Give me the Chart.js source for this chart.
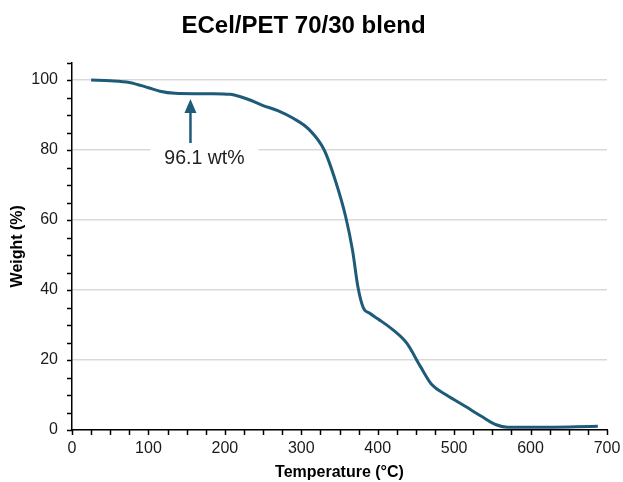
<!DOCTYPE html>
<html>
<head>
<meta charset="utf-8">
<script src="https://cdn.jsdelivr.net/npm/chart.js@4/dist/chart.umd.min.js"></script>
<style>
  html, body { margin: 0; padding: 0; background: #fff; }
  #wrap { width: 623px; height: 482px; }
</style>
</head>
<body>
<div id="wrap"><canvas id="tga"></canvas></div>
<script>
// TGA curve
const temperature = [25, 50, 75, 100, 115, 135, 160, 185, 207, 230, 250, 270, 290, 310, 330, 345, 358, 367, 374, 381, 390, 400, 420, 438, 456, 471, 490, 515, 535, 555, 570, 600, 630, 660, 688];
const weight = [100, 99.8, 99.3, 97.8, 96.8, 96.2, 96.1, 96.1, 95.9, 94.5, 92.7, 91.2, 89, 85.9, 80, 71, 61, 51.4, 41, 35, 33.3, 31.8, 28.6, 24.8, 18.1, 12.9, 10, 6.7, 4, 1.5, 0.8, 0.8, 0.8, 0.9, 1.1];

const xTicks = [0, 100, 200, 300, 400, 500, 600, 700];
const yTicks = [0, 20, 40, 60, 80, 100];

// annotation: arrow pointing at the plateau
const noteT = 155;
const noteLabel = "96.1 wt%";

const lineColor = "#1d5b79";
const font = "'Liberation Sans', Arial, sans-serif";

const points = temperature.map((t, i) => ({ x: t, y: weight[i] }));

// minor ticks + arrow note
const extras = {
  id: "extras",
  afterDraw(chart) {
    const c = chart.ctx;
    const xs = chart.scales.x, ys = chart.scales.y;
    const area = chart.chartArea;
    c.save();
    c.strokeStyle = "#000";
    c.lineWidth = 1.5;
    // y ticks every 5
    for (let v = 0; v <= 105; v += 5) {
      const y = Math.round(ys.getPixelForValue(v)) + 0.5;
      c.beginPath();
      c.moveTo(area.left - 5, y);
      c.lineTo(area.left, y);
      c.stroke();
    }
    // x ticks every 25
    for (let v = 0; v <= 700; v += 25) {
      const x = Math.round(xs.getPixelForValue(v)) + 0.5;
      c.beginPath();
      c.moveTo(x, area.bottom);
      c.lineTo(x, area.bottom + 5);
      c.stroke();
    }

    // note text with white box
    const ax = xs.getPixelForValue(noteT);
    const tipY = ys.getPixelForValue(94.6);
    const endY = ys.getPixelForValue(82);
    const textY = ys.getPixelForValue(77.4);
    c.font = "19.5px " + font;
    const w = c.measureText(noteLabel).width;
    const tx = ax + 14;
    c.fillStyle = "#fff";
    c.fillRect(tx - w / 2 - 14, textY - 11, w + 28, 22);
    c.fillStyle = "#222";
    c.textAlign = "center";
    c.textBaseline = "middle";
    c.fillText(noteLabel, tx, textY);

    // arrow
    c.strokeStyle = lineColor;
    c.fillStyle = lineColor;
    c.lineWidth = 2.5;
    c.beginPath();
    c.moveTo(ax, endY);
    c.lineTo(ax, tipY + 10);
    c.stroke();
    c.beginPath();
    c.moveTo(ax, tipY);
    c.lineTo(ax - 6, tipY + 14);
    c.lineTo(ax + 6, tipY + 14);
    c.closePath();
    c.fill();
    c.restore();
  }
};

new Chart(document.getElementById("tga"), {
  type: "line",
  data: {
    datasets: [{
      data: points,
      borderColor: lineColor,
      borderWidth: 3,
      pointRadius: 0,
      fill: false,
      cubicInterpolationMode: "monotone",
    }]
  },
  options: {
    responsive: true,
    maintainAspectRatio: false,
    animation: false,
    layout: { padding: { left: 0, right: 16, top: 0, bottom: 0 } },
    plugins: {
      legend: { display: false },
      tooltip: { enabled: false },
      title: {
        display: true,
        text: "ECel/PET 70/30 blend",
        color: "#000",
        font: { family: font, size: 24, weight: "bold" },
        padding: { top: 12.3, bottom: 21.4 },
      },
    },
    scales: {
      x: {
        type: "linear",
        min: 0,
        max: 700,
        afterBuildTicks: (s) => { s.ticks = xTicks.map(v => ({ value: v })); },
        afterFit: (s) => { s.height = 52; s.paddingLeft = 0; s.paddingRight = 0; },
        grid: { display: false, drawTicks: false },
        border: { display: true, color: "#000", width: 1.5 },
        ticks: { color: "#1a1a1a", font: { family: font, size: 16 }, padding: 9 },
        title: {
          display: true,
          text: "Temperature (°C)",
          color: "#000",
          font: { family: font, size: 16, weight: "bold" },
          padding: { top: 2, bottom: 0 },
        },
      },
      y: {
        min: 0,
        max: 105,
        afterBuildTicks: (s) => { s.ticks = yTicks.map(v => ({ value: v })); },
        afterFit: (s) => { s.width = 72; },
        grid: { color: "#d9d9d9", lineWidth: 1.5, drawTicks: false },
        border: { display: true, color: "#000", width: 1.5 },
        ticks: { color: "#1a1a1a", font: { family: font, size: 16 }, padding: 14 },
        title: {
          display: true,
          text: "Weight (%)",
          color: "#000",
          font: { family: font, size: 16, weight: "bold" },
          padding: { top: 8, bottom: 0 },
        },
      },
    },
  },
  plugins: [extras],
});
</script>
</body>
</html>
